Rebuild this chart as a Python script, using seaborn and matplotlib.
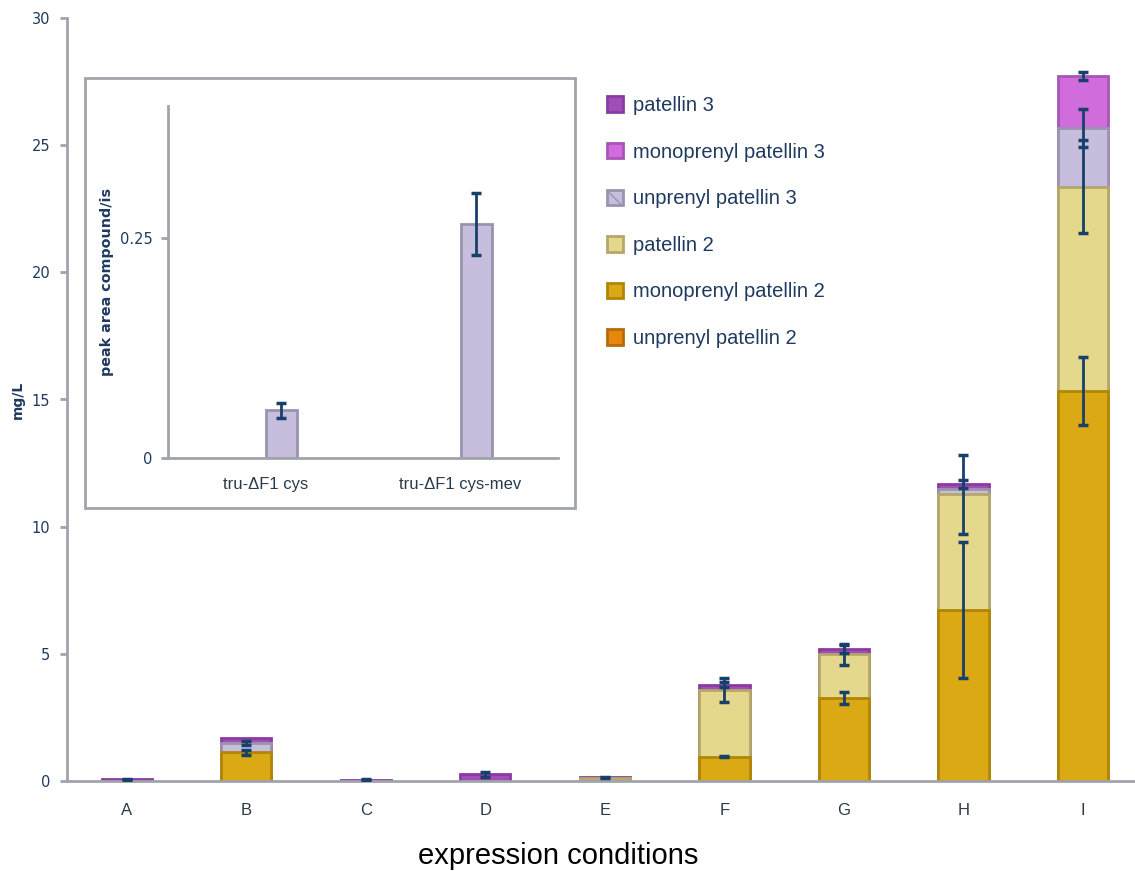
import numpy as np
import pandas as pd
import matplotlib
matplotlib.use("Agg")
import matplotlib.pyplot as plt
import seaborn as sns
from matplotlib.patches import Patch, Rectangle
from matplotlib.ticker import FixedLocator

# ---------------- data ----------------
categories = ["A", "B", "C", "D", "E", "F", "G", "H", "I"]
series_names = ["unprenyl patellin 2", "monoprenyl patellin 2", "patellin 2",
                "unprenyl patellin 3", "monoprenyl patellin 3", "patellin 3"]
unprenyl_p2 = [0, 0, 0, 0, 0, 0, 0, 0, 0]
monoprenyl_p2 = [0, 1.13, 0, 0, 0, 0.96, 3.25, 6.72, 15.34]
patellin_2 = [0, 0, 0, 0, 0.12, 2.62, 1.73, 4.55, 8.03]
unprenyl_p3 = [0, 0.35, 0, 0, 0, 0, 0, 0.20, 2.32]
monoprenyl_p3 = [0, 0, 0, 0, 0, 0, 0, 0, 2.03]
patellin_3 = [0.06, 0.20, 0.05, 0.27, 0.03, 0.20, 0.20, 0.20, 0.0]

err_unprenyl_p2 = [0, 0, 0, 0, 0, 0, 0, 0, 0]
err_monoprenyl_p2 = [0, 0.10, 0, 0, 0, 0.03, 0.24, 2.68, 1.33]
err_patellin_2 = [0, 0, 0, 0, 0, 0.47, 0.41, 1.55, 1.84]
err_unprenyl_p3 = [0, 0.08, 0, 0, 0, 0, 0, 0, 0.75]
err_monoprenyl_p3 = [0, 0, 0, 0, 0, 0, 0, 0, 0.15]
err_patellin_3 = [0.02, 0, 0.02, 0.10, 0.02, 0.10, 0.15, 0.15, 0]

y_ticks = [0, 5, 10, 15, 20, 25, 30]

inset_categories = ["tru-ΔF1 cys", "tru-ΔF1 cys-mev"]
inset_values = [0.054, 0.266]
inset_err = [0.0087, 0.035]
inset_ticks = [0, 0.25]

# ---------------- style ----------------
fills = ["#E8870E", "#DBA913", "#E4D88C", "#C6BEDC", "#D06CDC", "#A04FB5"]
edges = ["#B86A0A", "#B08607", "#B5A76A", "#9C94AE", "#A856B4", "#8A3AA0"]
navy = "#1F3A5F"
err_col = "#17406A"
spine_col = "#A0A4AB"

sns.set_style("white")
plt.rcParams["font.family"] = ["DejaVu Sans"]
plt.rcParams["hatch.color"] = "#1A3FA0"

fig = plt.figure(figsize=(11.35, 8.71), dpi=100)
W, H = 1135, 871
ax = fig.add_axes([67 / W, 1 - 781 / H, (1135 - 67) / W, (781 - 18) / H])

values = [unprenyl_p2, monoprenyl_p2, patellin_2, unprenyl_p3, monoprenyl_p3, patellin_3]
errors = [err_unprenyl_p2, err_monoprenyl_p2, err_patellin_2, err_unprenyl_p3,
          err_monoprenyl_p3, err_patellin_3]
vals = np.array(values, dtype=float)
cum = np.cumsum(vals, axis=0)

# draw from top segment down so each cumulative bar overlays the previous
for i in range(len(series_names) - 1, -1, -1):
    y = np.where(vals[i] > 0, cum[i], np.nan)
    df = pd.DataFrame({"cond": categories, "val": y})
    sns.barplot(data=df, x="cond", y="val", order=categories, color=fills[i],
                edgecolor=edges[i], linewidth=2, width=0.42, saturation=1,
                errorbar=None, ax=ax, zorder=2)

xpos = np.arange(len(categories))
for i in range(len(series_names)):
    e = np.array(errors[i], dtype=float)
    m = e > 0
    if m.any():
        ax.errorbar(xpos[m], cum[i][m], yerr=e[m], fmt="none", ecolor=err_col,
                    elinewidth=2, capsize=3.8, capthick=2.5, zorder=5)

ax.set_xlim(-0.5, 8.435)
ax.set_ylim(0, 30)
ax.set_yticks(y_ticks)
ax.set_yticklabels([str(t) for t in y_ticks], fontsize=10.5, color=navy)
ax.set_xticks(xpos)
ax.set_xticklabels(categories, fontsize=12, color="#2B3A4A", family="Liberation Sans")
ax.xaxis.set_minor_locator(FixedLocator(np.arange(0.5, 8.5, 1.0)))
ax.tick_params(axis="x", which="major", length=0, pad=16)
ax.tick_params(axis="x", which="minor", length=5, width=2, color=spine_col, direction="out")
ax.tick_params(axis="y", length=5, width=2, color=spine_col, direction="out", pad=7, left=True)
for s in ["top", "right"]:
    ax.spines[s].set_visible(False)
for s in ["left", "bottom"]:
    ax.spines[s].set_color(spine_col)
    ax.spines[s].set_linewidth(2)
ax.set_xlabel("expression conditions", fontsize=21, family="Liberation Sans",
              color="black")
ax.xaxis.set_label_coords((558 - 67) / 1068, (781 - 842) / 763)
ax.set_ylabel("mg/L", fontsize=10, fontweight="bold", color=navy, labelpad=5)

# ---------------- legend ----------------
order = [5, 4, 3, 2, 1, 0]
handles = []
for i in order:
    if i == 3:
        handles.append(Patch(facecolor=fills[i], edgecolor="#9C94AE", linewidth=2,
                             hatch="\\\\", label=series_names[i]))
    else:
        handles.append(Patch(facecolor=fills[i], edgecolor=edges[i], linewidth=2,
                             label=series_names[i]))
leg = fig.legend(handles=handles, loc="upper left", bbox_to_anchor=(589 / W, 1 - 78 / H),
                 frameon=False, prop={"family": "Liberation Sans", "size": 14.5},
                 handlelength=0.8, handleheight=0.8, handletextpad=0.5,
                 labelspacing=1.37)
for t in leg.get_texts():
    t.set_color(navy)

# ---------------- inset ----------------
frame = Rectangle((85 / W, 1 - 508 / H), 490 / W, 430 / H, transform=fig.transFigure,
                  facecolor="white", edgecolor=spine_col, linewidth=2, zorder=3)
fig.patches.append(frame)

axi = fig.add_axes([168 / W, 1 - 458 / H, 390 / W, (458 - 106) / H], zorder=4)
axi.patch.set_alpha(0)
idf = pd.DataFrame({"cond": inset_categories * 2,
                    "series": ["s1"] * 2 + ["s2"] * 2,
                    "val": [np.nan, np.nan] + inset_values})
sns.barplot(data=idf, x="cond", y="val", hue="series", hue_order=["s1", "s2"],
            order=inset_categories, palette=[fills[3], fills[3]], width=0.32,
            edgecolor="#9A93AE", linewidth=2, saturation=1, errorbar=None,
            legend=False, ax=axi)
axi.errorbar(np.arange(2) + 0.08, inset_values, yerr=inset_err, fmt="none",
             ecolor=err_col, elinewidth=2, capsize=3.8, capthick=2.5, zorder=5)
axi.set_xlim(-0.5, 1.5)
axi.set_ylim(0, 0.4)
axi.set_yticks(inset_ticks)
axi.set_yticklabels(["0", "0.25"], fontsize=10.5, color=navy)
axi.set_xticks([0, 1])
axi.set_xticklabels(inset_categories, fontsize=12, color="#2B3A4A", family="Liberation Sans")
axi.xaxis.set_minor_locator(FixedLocator([0.5]))
axi.tick_params(axis="x", which="major", length=0, pad=14)
axi.tick_params(axis="x", which="minor", length=5, width=2, color=spine_col, direction="out")
axi.tick_params(axis="y", length=5, width=2, color=spine_col, direction="out", pad=6, left=True)
for s in ["top", "right"]:
    axi.spines[s].set_visible(False)
for s in ["left", "bottom"]:
    axi.spines[s].set_color(spine_col)
    axi.spines[s].set_linewidth(2)
axi.set_xlabel("")
axi.set_ylabel("peak area compound/is", fontsize=10.3, fontweight="bold", color=navy,
               labelpad=4)

fig.savefig("out.png", dpi=100)
